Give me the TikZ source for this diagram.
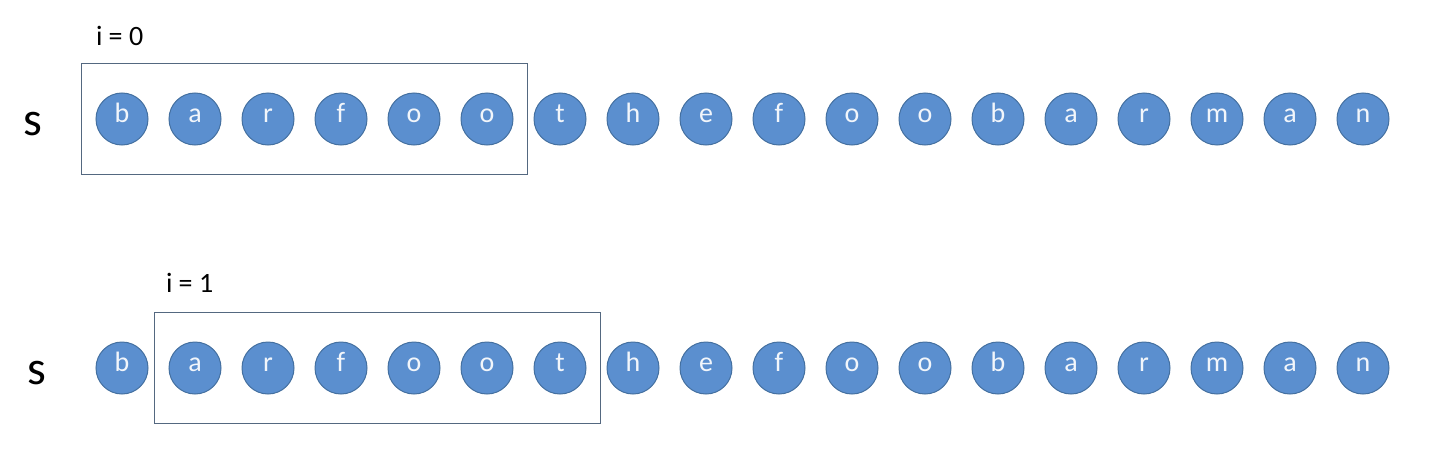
\documentclass[tikz,border=0pt]{standalone}
\usepackage{fontspec}
\setmainfont{Carlito}
\usetikzlibrary{fit,positioning}
\definecolor{charfill}{RGB}{91,143,207}
\definecolor{chardraw}{RGB}{68,112,160}
\definecolor{winline}{RGB}{84,104,128}
\begin{document}
\begin{tikzpicture}[x=1pt,y=-1pt,
    char/.style={circle,fill=charfill,draw=chardraw,line width=1pt,minimum size=52pt,inner sep=0pt,
      text=white!92!charfill,text height=0.68em,text depth=0pt,font=\fontsize{28}{28}\selectfont},
    window/.style={draw=winline,line width=1.4pt,inner xsep=14pt,inner ysep=29pt},
    strname/.style={anchor=base,font=\fontsize{48}{48}\selectfont},
    idxlabel/.style={anchor=base west,inner sep=0pt,font=\fontsize{28}{28}\selectfont}]
  \useasboundingbox (0,0) rectangle (1432,460);

  % the string, once per row
  \foreach \ch [count=\k] in {b,a,r,f,o,o,t,h,e,f,o,o,b,a,r,m,a,n} {
    \node[char] (p\k) at (49+73*\k,119) {\ch};
    \node[char] (q\k) at (49+73*\k,368) {\ch};
  }
  \node[strname] (s0) at (33,135) {s};
  \node[strname] (s1) at (37,384) {s};

  % windows
  \node[window,fit=(p1)(p6)] (win0) {};
  \node[window,fit=(q2)(q7)] (win1) {};
  \node[idxlabel] (lab0) at ([xshift=15pt,yshift=17pt]win0.north west) {i = 0};
  \node[idxlabel] (lab1) at ([xshift=12pt,yshift=19pt]win1.north west) {i = 1};
\end{tikzpicture}
\end{document}
